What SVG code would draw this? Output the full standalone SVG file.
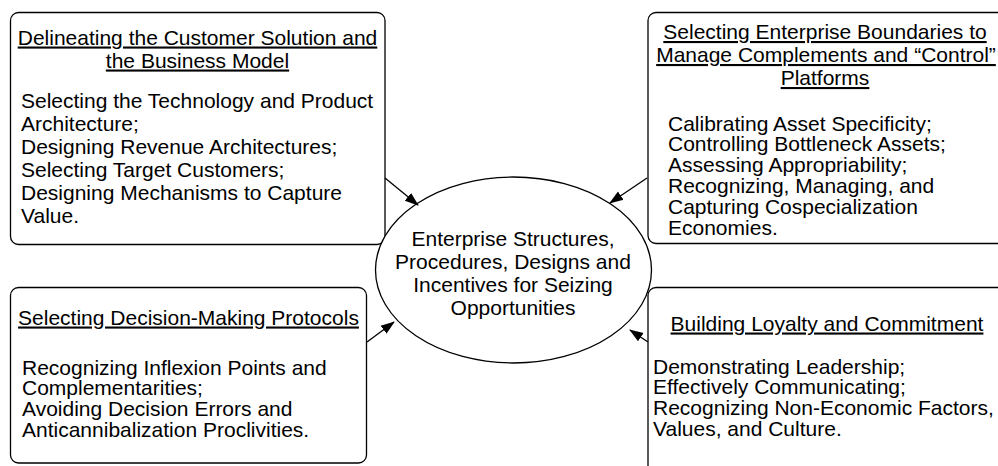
<svg xmlns="http://www.w3.org/2000/svg" width="998" height="466" viewBox="0 0 998 466">
<defs>
<style>
.box{fill:#fff;stroke:#000;stroke-width:1.3}
.t{font-family:"Liberation Sans",Arial,sans-serif;font-size:21px;fill:#000}
.h{text-decoration:underline;text-anchor:middle}
.c{text-anchor:middle}
.con{stroke:#000;stroke-width:1.3;fill:none;marker-end:url(#ah)}
</style>
<marker id="ah" markerUnits="userSpaceOnUse" markerWidth="14" markerHeight="12" refX="13" refY="5" orient="auto" viewBox="0 0 14 10">
<path d="M0,0 L14,5 L0,10 z" fill="#000"/>
</marker>
</defs>
<rect width="998" height="466" fill="#fff"/>
<g id="node-customer-solution">
<rect class="box" x="10.5" y="12.5" width="374.5" height="232" rx="8"/>
<text class="t h" x="197.5" y="44.5">Delineating the Customer Solution and</text>
<text class="t h" x="197.5" y="67.5">the Business Model</text>
<text class="t" x="21" y="107.5">Selecting the Technology and Product</text>
<text class="t" x="21" y="130.5">Architecture;</text>
<text class="t" x="21" y="153.5">Designing Revenue Architectures;</text>
<text class="t" x="21" y="176.5">Selecting Target Customers;</text>
<text class="t" x="21" y="199.5">Designing Mechanisms to Capture</text>
<text class="t" x="21" y="222.5">Value.</text>
</g>
<g id="node-enterprise-boundaries">
<rect class="box" x="648" y="12.5" width="370" height="231" rx="8"/>
<text class="t h" x="825" y="39">Selecting Enterprise Boundaries to</text>
<text class="t h" x="826" y="62">Manage Complements and “Control”</text>
<text class="t h" x="825" y="85">Platforms</text>
<text class="t" x="668" y="130.5">Calibrating Asset Specificity;</text>
<text class="t" x="668" y="151.3">Controlling Bottleneck Assets;</text>
<text class="t" x="668" y="172.1">Assessing Appropriability;</text>
<text class="t" x="668" y="192.9">Recognizing, Managing, and</text>
<text class="t" x="668" y="213.7">Capturing Cospecialization</text>
<text class="t" x="668" y="234.5">Economies.</text>
</g>
<g id="node-decision-protocols">
<rect class="box" x="10.5" y="287.5" width="356" height="175.5" rx="8"/>
<text class="t h" x="188.5" y="324.5">Selecting Decision-Making Protocols</text>
<text class="t" x="22" y="374.5">Recognizing Inflexion Points and</text>
<text class="t" x="22" y="395.3">Complementarities;</text>
<text class="t" x="22" y="416.1">Avoiding Decision Errors and</text>
<text class="t" x="22" y="436.9">Anticannibalization Proclivities.</text>
</g>
<g id="node-loyalty">
<rect class="box" x="648" y="287.5" width="370" height="200" rx="8"/>
<text class="t h" x="827" y="330.5">Building Loyalty and Commitment</text>
<text class="t" x="653" y="373.5">Demonstrating Leadership;</text>
<text class="t" x="653" y="394.3">Effectively Communicating;</text>
<text class="t" x="653" y="415.1">Recognizing Non-Economic Factors,</text>
<text class="t" x="653" y="435.9">Values, and Culture.</text>
</g>
<g id="node-center">
<ellipse class="box" cx="513.5" cy="270" rx="138" ry="93"/>
<text class="t c" x="513" y="245.5">Enterprise Structures,</text>
<text class="t c" x="513" y="268.8">Procedures, Designs and</text>
<text class="t c" x="513" y="292.1">Incentives for Seizing</text>
<text class="t c" x="513" y="315.4">Opportunities</text>
</g>
<g id="connectors">
<line class="con" x1="385" y1="178" x2="418" y2="205"/>
<line class="con" x1="647" y1="178" x2="610" y2="203"/>
<line class="con" x1="367" y1="342" x2="394" y2="322"/>
<line class="con" x1="648" y1="342" x2="630" y2="330"/>
</g>
</svg>
